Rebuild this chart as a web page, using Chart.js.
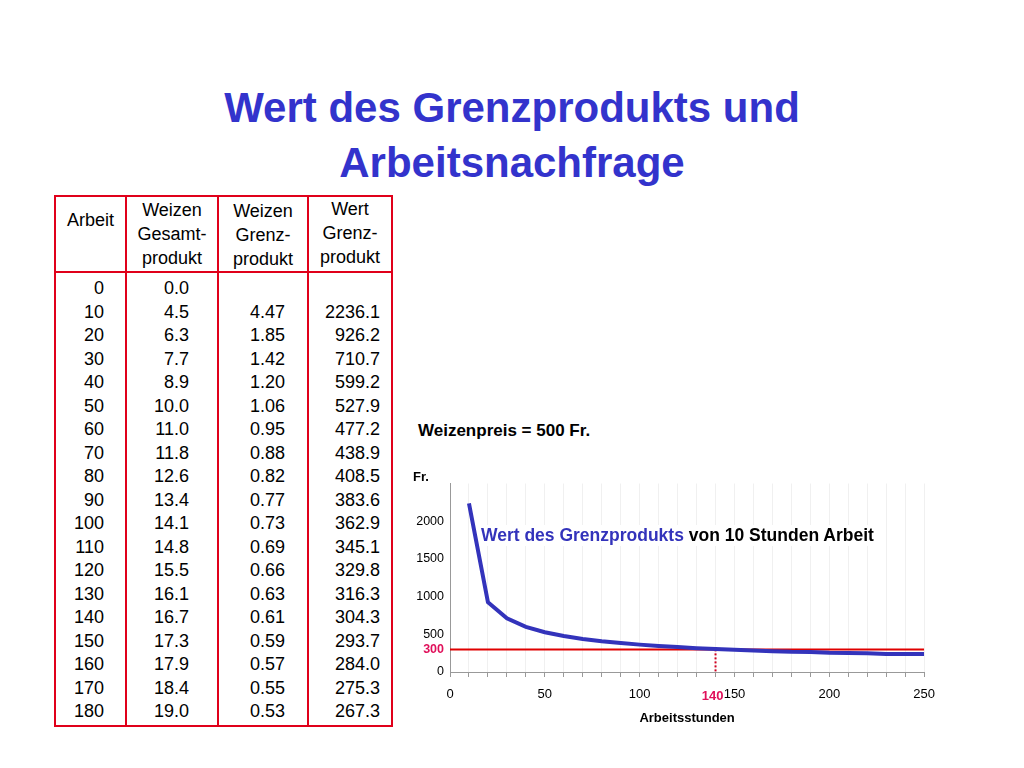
<!DOCTYPE html>
<html><head><meta charset="utf-8">
<script src="https://cdn.jsdelivr.net/npm/chart.js@4"></script>
<style>
body{margin:0;width:1024px;height:768px;background:#fff;font-family:"Liberation Sans",Arial,sans-serif;position:relative;overflow:hidden}
.t{position:absolute;white-space:nowrap;z-index:2}
.cell{position:absolute;font-size:18px;color:#000;line-height:23.3px}
.hdr{position:absolute;font-size:18px;text-align:center;line-height:24px}
.ln{position:absolute;background:#e0001a}
</style></head><body>
<div class="t" style="left:0;width:1024px;top:80px;text-align:center;color:#3333cc;font-weight:bold;font-size:42px;line-height:55px;margin:0">Wert des Grenzprodukts und<br>Arbeitsnachfrage</div>
<div id="table"></div>
<div class="t" style="left:418px;top:421px;font-size:17px;font-weight:bold">Weizenpreis = 500 Fr.</div>
<div class="t" style="left:413px;top:469px;font-size:13px;font-weight:bold">Fr.</div>
<div style="position:absolute;left:400px;top:470px;width:545px;height:260px;z-index:1"><canvas id="c"></canvas></div>
<div class="t" style="left:481px;top:525px;font-size:17.5px;font-weight:bold;background:#fff"><span style="color:#3333bb">Wert des Grenzprodukts</span> von 10 Stunden Arbeit</div>
<script>
const arbeit = [0,10,20,30,40,50,60,70,80,90,100,110,120,130,140,150,160,170,180];
const gesamt = ['0.0','4.5','6.3','7.7','8.9','10.0','11.0','11.8','12.6','13.4','14.1','14.8','15.5','16.1','16.7','17.3','17.9','18.4','19.0'];
const grenz = ['','4.47','1.85','1.42','1.20','1.06','0.95','0.88','0.82','0.77','0.73','0.69','0.66','0.63','0.61','0.59','0.57','0.55','0.53'];
const wert = ['','2236.1','926.2','710.7','599.2','527.9','477.2','438.9','408.5','383.6','362.9','345.1','329.8','316.3','304.3','293.7','284.0','275.3','267.3'];
const curveX = [10,20,30,40,50,60,70,80,90,100,110,120,130,140,150,160,170,180,190,200,210,220,230,240,250];
const curveY = [2236,926,711,599,528,477,439,408,384,363,345,330,316,304,294,284,275,267,265,255,252,250,240,240,240];
const lohn = 300;
const nachfrage = 140;

// table
const tb = document.getElementById('table');
let h = '';
h += '<div class="ln" style="left:54px;top:195px;width:339px;height:2px"></div>';
h += '<div class="ln" style="left:54px;top:271px;width:339px;height:2px"></div>';
h += '<div class="ln" style="left:54px;top:725px;width:339px;height:2px"></div>';
[54,125,217,307,391].forEach(x => h += `<div class="ln" style="left:${x}px;top:195px;width:2px;height:532px"></div>`);
h += '<div class="hdr" style="left:56px;width:69px;top:208px">Arbeit</div>';
h += '<div class="hdr" style="left:127px;width:90px;top:198px">Weizen<br>Gesamt-<br>produkt</div>';
h += '<div class="hdr" style="left:219px;width:88px;top:199px">Weizen<br>Grenz-<br>produkt</div>';
h += '<div class="hdr" style="left:309px;width:82px;top:197px">Wert<br>Grenz-<br>produkt</div>';
arbeit.forEach((a, i) => {
  const y = 277 + i * 23.5;
  h += `<div class="cell" style="left:56px;width:48px;text-align:right;top:${y}px">${a}</div>`;
  h += `<div class="cell" style="left:127px;width:62px;text-align:right;top:${y}px">${gesamt[i]}</div>`;
  h += `<div class="cell" style="left:219px;width:66px;text-align:right;top:${y}px">${grenz[i]}</div>`;
  h += `<div class="cell" style="left:309px;width:71px;text-align:right;top:${y}px">${wert[i]}</div>`;
});
tb.innerHTML = h;

const label140 = {
  id: 'label140',
  afterDraw(chart) {
    const c = chart.ctx, x = chart.scales.x;
    c.save();
    c.font = 'bold 13px "Liberation Sans", Arial';
    c.fillStyle = '#e0105a';
    c.textAlign = 'right';
    c.textBaseline = 'middle';
    c.fillText(String(nachfrage), x.getPixelForValue(150) - 11, chart.chartArea.bottom + 24);
    c.restore();
  }
};

new Chart(document.getElementById('c'), {
  type: 'line',
  data: {
    datasets: [
      { data: curveX.map((x, i) => ({ x, y: curveY[i] })), borderColor: '#3333bb', borderWidth: 4, pointRadius: 0, tension: 0 },
      { data: [{ x: 0, y: lohn }, { x: 250, y: lohn }], borderColor: '#e00000', borderWidth: 2, pointRadius: 0 },
      { data: [{ x: nachfrage, y: lohn }, { x: nachfrage, y: 0 }], borderColor: '#d00020', borderWidth: 2, borderDash: [2, 2], pointRadius: 0 }
    ]
  },
  plugins: [label140],
  options: {
    responsive: true, maintainAspectRatio: false, animation: false,
    layout: { padding: { top: 5, right: 20 } },
    plugins: { legend: { display: false }, tooltip: { enabled: false } },
    scales: {
      x: {
        type: 'linear', min: 0, max: 250,
        afterFit: s => { s.height = 58; },
        afterBuildTicks: s => { s.ticks = []; for (let v = 0; v <= 250; v += 10) s.ticks.push({ value: v }); },
        ticks: {
          autoSkip: false, maxRotation: 0, padding: 10,
          font: { family: 'Liberation Sans', size: 13 }, color: '#000',
          callback: v => (v % 50 === 0 ? String(v) : '')
        },
        grid: { color: '#f0f0f0', tickColor: '#999', tickLength: 5 },
        border: { color: '#999' },
        title: { display: true, text: 'Arbeitsstunden', font: { family: 'Liberation Sans', size: 13, weight: 'bold' }, color: '#000', padding: { top: 0, bottom: 4 } }
      },
      y: {
        min: 0, max: 2500,
        afterFit: s => { s.width = 50; },
        afterBuildTicks: s => { s.ticks = [0, lohn, 500, 1000, 1500, 2000].map(v => ({ value: v })); },
        ticks: {
          autoSkip: false, padding: 6,
          callback: v => String(v),
          font: c => ({ family: 'Liberation Sans', size: 12.5, weight: c.tick && c.tick.value === lohn ? 'bold' : 'normal' }),
          color: c => (c.tick && c.tick.value === lohn ? '#e0105a' : '#000')
        },
        grid: { display: false, drawTicks: false },
        border: { color: '#999' }
      }
    }
  }
});
</script>
</body></html>
